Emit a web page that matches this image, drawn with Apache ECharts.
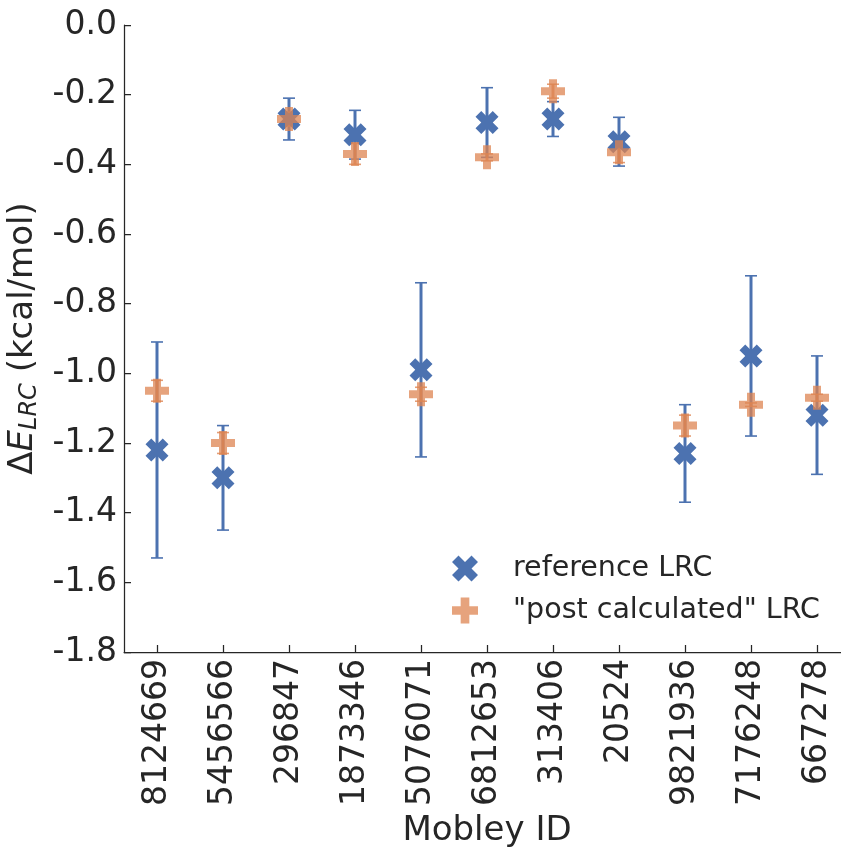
<!DOCTYPE html>
<html>
<head>
<meta charset="UTF-8">
<title>LRC</title>
<style>html,body{margin:0;padding:0;background:#fff;}</style>
</head>
<body>
<div id="main" style="width:841px;height:847px;"></div>
<script src="https://cdn.jsdelivr.net/npm/echarts@6/dist/echarts.min.js"></script>
<script>
// Mobley IDs
var ids = ['8124669','5456566','296847','1873346','5076071','6812653','313406','20524','9821936','7176248','667278'];
// reference LRC + error
var refLRC = [-1.22,-1.30,-0.27,-0.315,-0.99,-0.28,-0.27,-0.335,-1.23,-0.95,-1.12];
var refErr = [0.31,0.15,0.06,0.07,0.25,0.10,0.05,0.07,0.14,0.23,0.17];
// "post calculated" LRC + error
var postLRC = [-1.05,-1.20,-0.27,-0.37,-1.06,-0.38,-0.19,-0.365,-1.15,-1.09,-1.07];
var postErr = [0.03,0.03,0.02,0.03,0.02,0.01,0.02,0.03,0.03,0.005,0.01];

var blue = '#4c72b0', orange = '#dd8452', ink = '#262626';
var X_PATH = 'path://M1,0 L2,1 L3,0 L4,1 L3,2 L4,3 L3,4 L2,3 L1,4 L0,3 L1,2 L0,1 Z';
var P_PATH = 'path://M1,0 H2 V1 H3 V2 H2 V3 H1 V2 H0 V1 H1 Z';

function errData(v, e){
  var out = [];
  for (var i = 0; i < v.length; i++) out.push([i, v[i] - e[i], v[i] + e[i]]);
  return out;
}

// 误差棒
function errRender(color, lw, capW, op){
  return function(params, api){
    var lo = api.coord([api.value(0), api.value(1)]);
    var hi = api.coord([api.value(0), api.value(2)]);
    var cx = lo[0];
    var st = {stroke: color, lineWidth: lw, opacity: op};
    var cs = {stroke: color, lineWidth: 1.6, opacity: op};
    return {type:'group', children:[
      {type:'line', shape:{x1:cx,y1:hi[1],x2:cx,y2:lo[1]}, style:st},
      {type:'line', shape:{x1:cx-capW/2,y1:hi[1],x2:cx+capW/2,y2:hi[1]}, style:cs},
      {type:'line', shape:{x1:cx-capW/2,y1:lo[1],x2:cx+capW/2,y2:lo[1]}, style:cs}
    ]};
  };
}

var myChart = echarts.init(document.getElementById('main'));
myChart.setOption({
  animation: false,
  backgroundColor: '#fff',
  grid: {left:124, top:25, right:-9, bottom:195, containLabel:false, outerBoundsMode:'none'},
  legend: {
    orient:'vertical', left:447, top:549, itemWidth:26, itemHeight:26, itemGap:13,
    data:['reference LRC','"post calculated" LRC'],
    textStyle:{fontSize:28.5, color:ink, fontFamily:'DejaVu Sans', padding:[0,0,0,30]}
  },
  xAxis: {
    type:'category', data:ids, boundaryGap:true,
    name:'Mobley ID', nameLocation:'middle', nameGap:162,
    nameTextStyle:{fontSize:34, color:ink, fontFamily:'DejaVu Sans'},
    axisLine:{show:true, onZero:false, lineStyle:{color:ink, width:1.25}},
    axisTick:{show:true, inside:true, length:7, alignWithLabel:true, lineStyle:{color:ink, width:1.25}},
    axisLabel:{rotate:90, fontSize:33, color:ink, fontFamily:'DejaVu Sans', margin:7},
    splitLine:{show:false}
  },
  yAxis: {
    type:'value', min:-1.8, max:0, interval:0.2,
    name:'{d|Δ}{e|E}{s|LRC}{d| (kcal/mol)}', nameLocation:'middle', nameGap:74, nameRotate:90,
    nameTextStyle:{
      color:ink, fontFamily:'DejaVu Sans', fontSize:34,
      rich:{
        d:{fontSize:34, color:ink, fontFamily:'DejaVu Sans', lineHeight:40},
        e:{fontSize:34, color:ink, fontFamily:'DejaVu Sans', fontStyle:'italic', lineHeight:40},
        s:{fontSize:24, color:ink, fontFamily:'DejaVu Sans', fontStyle:'italic', lineHeight:40, padding:[14,0,0,0]}
      }
    },
    axisLine:{show:true, onZero:false, lineStyle:{color:ink, width:1.25}},
    axisTick:{show:true, inside:true, length:7, lineStyle:{color:ink, width:1.25}},
    axisLabel:{fontSize:33, color:ink, fontFamily:'DejaVu Sans', margin:7,
      formatter:function(v){ return v.toFixed(1); }},
    splitLine:{show:false}
  },
  series: [
    {type:'custom', name:'refErr', renderItem:errRender(blue, 3, 12, 1), data:errData(refLRC, refErr), encode:{x:0, y:[1,2]}},
    {type:'scatter', name:'reference LRC', data:refLRC, symbol:X_PATH, symbolSize:23,
      itemStyle:{color:blue, opacity:1}},
    {type:'custom', name:'postErr', renderItem:errRender(orange, 3, 12, 0.8), data:errData(postLRC, postErr), encode:{x:0, y:[1,2]}},
    {type:'scatter', name:'"post calculated" LRC', data:postLRC, symbol:P_PATH, symbolSize:24,
      itemStyle:{color:orange, opacity:0.75}}
  ]
});
</script>
</body>
</html>
